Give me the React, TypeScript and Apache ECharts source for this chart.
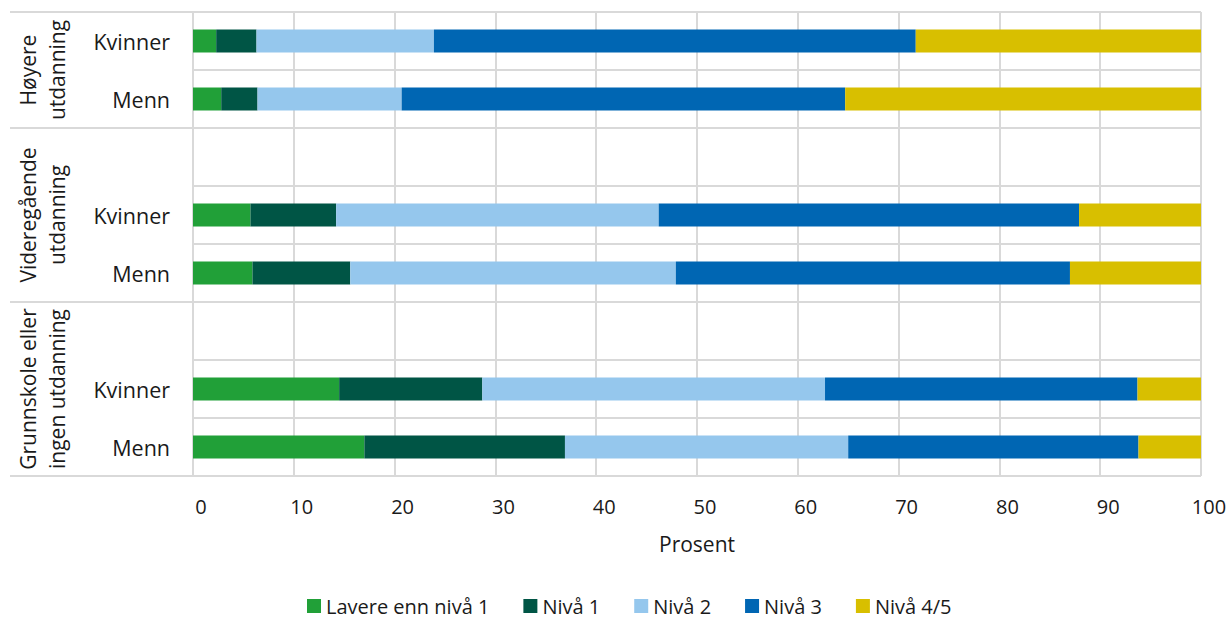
import React, { useEffect, useRef } from "react";
import * as echarts from "echarts";

const categories = ["Kvinner", "Menn", "", "Kvinner", "Menn", "", "Kvinner", "Menn"];
const groupLabels = ["Høyere\nutdanning", "Videregående\nutdanning", "Grunnskole eller\ningen utdanning"];
const seriesNames = ["Lavere enn nivå 1", "Nivå 1", "Nivå 2", "Nivå 3", "Nivå 4/5"];
const colors = ["#21a038", "#005545", "#95c7ed", "#0066b3", "#d8bf00"];

const lavere = [2.3, 2.8, null, 5.7, 5.9, null, 14.5, 17.0];
const niva1 = [4.0, 3.6, null, 8.5, 9.7, null, 14.2, 19.9];
const niva2 = [17.6, 14.3, null, 32.0, 32.3, null, 34.0, 28.1];
const niva3 = [47.8, 44.0, null, 41.7, 39.1, null, 31.0, 28.8];
const niva45 = [28.3, 35.3, null, 12.1, 13.0, null, 6.3, 6.3];

const allValues = [lavere, niva1, niva2, niva3, niva45];

export default function App() {
  const ref = useRef<HTMLDivElement>(null);
  useEffect(() => {
    document.body.style.margin = "0";
    const chart = echarts.init(ref.current!, null, { renderer: "svg" });
    const font = "'Open Sans', sans-serif";
    const left = 193, right = 1201, top = 12, bottom = 476;
    const rowH = (bottom - top) / categories.length;
    const sepYs = [top, top + 2 * rowH, top + 5 * rowH, bottom];
    const groupCenters = [top + rowH, top + 3.5 * rowH, top + 6.5 * rowH];
    const graphics: any[] = [];
    sepYs.forEach((y) => {
      graphics.push({
        type: "line",
        shape: { x1: 10, y1: y, x2: left, y2: y },
        style: { stroke: "#d9d9d9", lineWidth: 2 },
        silent: true,
      });
    });
    groupLabels.forEach((t, i) => {
      graphics.push({
        type: "text",
        x: 42,
        y: groupCenters[i],
        rotation: Math.PI / 2,
        style: {
          text: t,
          font: `21px ${font}`,
          fill: "#1a1a1a",
          align: "center",
          verticalAlign: "middle",
          lineHeight: 29,
        },
      });
    });
    chart.setOption({
      animation: false,
      textStyle: { fontFamily: font },
      grid: { left, right: 1232 - right, top, bottom: 619 - bottom, containLabel: false },
      xAxis: {
        type: "value",
        min: 0,
        max: 100,
        interval: 10,
        name: "Prosent",
        nameLocation: "middle",
        nameGap: 57,
        nameTextStyle: { fontSize: 21, color: "#1a1a1a", fontFamily: font },
        axisLine: { show: false },
        axisTick: { show: false },
        axisLabel: {
          fontSize: 20,
          color: "#1a1a1a",
          margin: 20,
          fontFamily: font,
          padding: [0, 0, 0, 16],
        },
        splitLine: { show: true, lineStyle: { color: "#d9d9d9", width: 2 } },
      },
      yAxis: {
        type: "category",
        data: categories,
        inverse: true,
        axisLine: { show: false },
        axisTick: { show: false },
        axisLabel: { fontSize: 21.5, color: "#1a1a1a", margin: 23, fontFamily: font, interval: 0 },
        splitLine: { show: true, interval: 0, lineStyle: { color: "#d9d9d9", width: 2 } },
      },
      legend: {
        top: 596,
        left: 307,
        itemWidth: 14,
        itemHeight: 14,
        itemGap: 34,
        icon: "rect",
        padding: 0,
        textStyle: { fontSize: 20, color: "#1a1a1a", fontFamily: font, lineHeight: 20 },
        data: seriesNames,
      },
      series: seriesNames.map((name, i) => ({
        name,
        type: "bar",
        stack: "total",
        barWidth: 23,
        itemStyle: { color: colors[i] },
        data: allValues[i],
      })),
      graphic: graphics,
    });
    return () => chart.dispose();
  }, []);
  return <div ref={ref} style={{ width: 1232, height: 619 }} />;
}
